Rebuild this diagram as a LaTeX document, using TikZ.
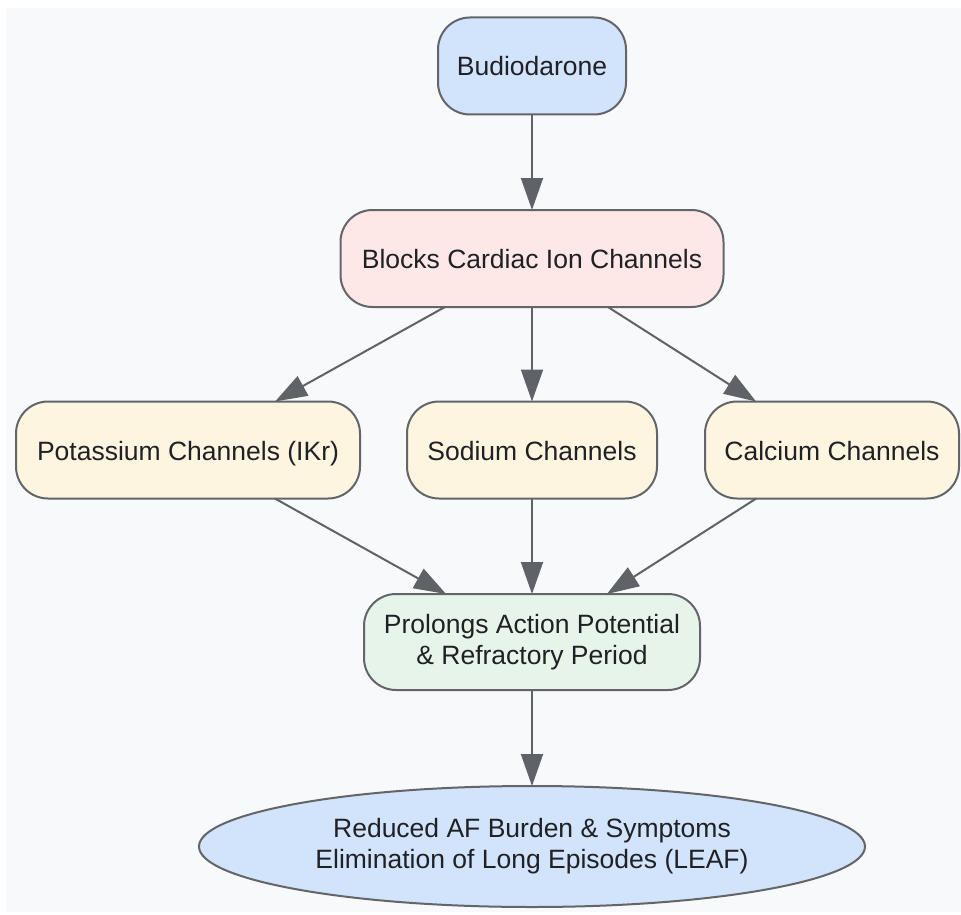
\documentclass[tikz,border=0pt]{standalone}
\usepackage{fontspec}
\setmainfont{Liberation Sans}
\usetikzlibrary{arrows.meta,shapes.geometric}
\definecolor{bggray}{HTML}{F8F9FA}
\definecolor{edgegray}{HTML}{5F6368}
\definecolor{bordergray}{HTML}{636569}
\definecolor{txt}{HTML}{202124}
\definecolor{fblue}{HTML}{D2E3FC}
\definecolor{fpink}{HTML}{FDE8E7}
\definecolor{fyellow}{HTML}{FEF5E1}
\definecolor{fgreen}{HTML}{E6F4EA}
\tikzset{
  box/.style={rectangle, rounded corners=32pt, draw=bordergray, line width=2pt,
    minimum height=97pt, inner sep=0pt, outer sep=0pt, text=txt, align=center,
    font=\fontsize{26.5}{31}\selectfont},
  oneline/.style={text height=22pt, text depth=2pt},
  oval/.style={ellipse, draw=bordergray, line width=2pt, inner sep=0pt, outer sep=0pt,
    text=txt, align=center, font=\fontsize{26.5}{31}\selectfont},
  conn/.style={draw=edgegray, line width=2pt, -{Triangle[length=32pt,width=22pt]}}
}
\begin{document}
\begin{tikzpicture}[x=1pt,y=-1pt]
\useasboundingbox (0,0) rectangle (961,915);
\fill[white] (0,0) rectangle (961,915);
\fill[bggray] (6,8) rectangle (961,912);
\node[box, oneline, fill=fblue, minimum width=188pt] (bud) at (532,66) {Budiodarone};
\node[box, oneline, fill=fpink, minimum width=383pt] (blk) at (532,258.5) {Blocks Cardiac Ion Channels};
\node[box, oneline, fill=fyellow, minimum width=344pt] (pot) at (188,450) {Potassium Channels (IKr)};
\node[box, oneline, fill=fyellow, minimum width=250pt] (sod) at (532,450) {Sodium Channels};
\node[box, oneline, fill=fyellow, minimum width=254pt] (cal) at (832,450) {Calcium Channels};
\node[box, fill=fgreen, minimum width=336pt, minimum height=96pt] (pro) at (532,642) {Prolongs Action Potential\\\& Refractory Period};
\node[oval, fill=fblue, minimum width=666pt, minimum height=121pt] (res) at (532,846.5) {Reduced AF Burden \& Symptoms\\Elimination of Long Episodes (LEAF)};
\draw[conn] (bud) -- (blk);
\draw[conn] (blk) -- (pot);
\draw[conn] (blk) -- (sod);
\draw[conn] (blk) -- (cal);
\draw[conn] (pot) -- (pro);
\draw[conn] (sod) -- (pro);
\draw[conn] (cal) -- (pro);
\draw[conn] (pro) -- (res);
\end{tikzpicture}
\end{document}
